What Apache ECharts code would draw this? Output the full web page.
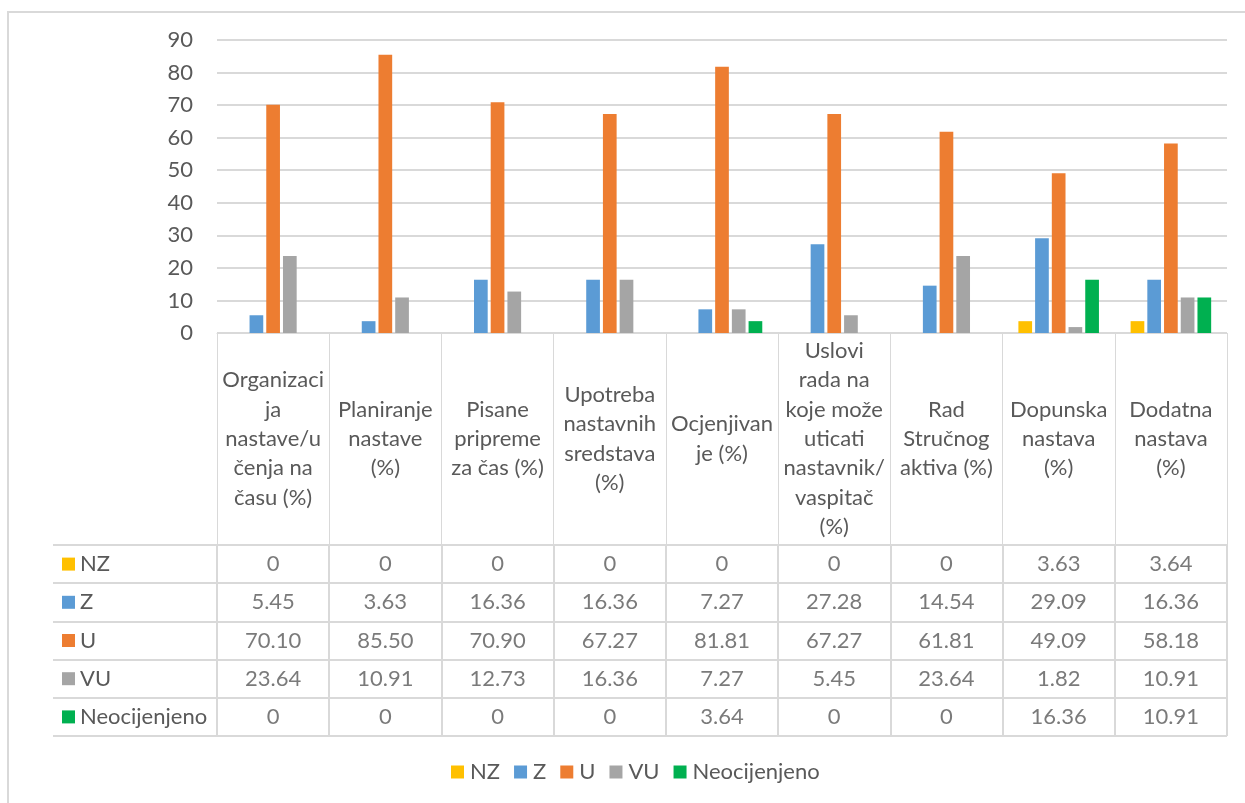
<!DOCTYPE html>
<html>
<head>
<meta charset="utf-8">
<script src="https://cdn.jsdelivr.net/npm/echarts@6/dist/echarts.min.js"></script>
<style>
html,body{margin:0;padding:0;background:#fff;}
#frame{position:absolute;left:7px;top:11px;width:1240px;height:795px;border-left:2px solid #d9d9d9;border-top:2px solid #d9d9d9;}
#chart{position:absolute;left:0;top:0;width:1245px;height:803px;}
</style>
</head>
<body>
<div id="frame"></div>
<div id="chart"></div>
<script>
const categories = [
  "Organizaci\nja\nnastave/u\nčenja na\ncasu (%)".replace("casu","času"),
  "Planiranje\nnastave\n(%)",
  "Pisane\npripreme\nza čas (%)",
  "Upotreba\nnastavnih\nsredstava\n(%)",
  "Ocjenjivan\nje (%)",
  "Uslovi\nrada na\nkoje može\nuticati\nnastavnik/\nvaspitač\n(%)",
  "Rad\nStručnog\naktiva (%)",
  "Dopunska\nnastava\n(%)",
  "Dodatna\nnastava\n(%)"
];
const seriesNames = ["NZ", "Z", "U", "VU", "Neocijenjeno"];
const NZ  = [0, 0, 0, 0, 0, 0, 0, 3.63, 3.64];
const Z   = [5.45, 3.63, 16.36, 16.36, 7.27, 27.28, 14.54, 29.09, 16.36];
const U   = [70.10, 85.50, 70.90, 67.27, 81.81, 67.27, 61.81, 49.09, 58.18];
const VU  = [23.64, 10.91, 12.73, 16.36, 7.27, 5.45, 23.64, 1.82, 10.91];
const NEO = [0, 0, 0, 0, 3.64, 0, 0, 16.36, 10.91];
const yTicks = { min: 0, max: 90, interval: 10 };

const values = [NZ, Z, U, VU, NEO];
const colors = ["#FFC000", "#5B9BD5", "#ED7D31", "#A5A5A5", "#00B050"];
const FONT = "Lato";
const FS = 22;
const TXT = "#595959";
const LINE = "#d9d9d9";

const rich = { t: { fontFamily: FONT, fontSize: FS, color: TXT, padding: [0, 0, 0, 5] } };
colors.forEach((c, i) => { rich["s" + i] = { width: 13, height: 13, backgroundColor: c }; });

const fmt = v => v === 0 ? "0" : v.toFixed(2);

const barSeries = seriesNames.map((n, i) => ({
  name: n, type: "bar", xAxisIndex: 0, yAxisIndex: 0,
  data: values[i], barWidth: 13.7, barGap: "22%",
  itemStyle: { color: colors[i] }
}));
const tableSeries = seriesNames.map((n, r) => ({
  name: "tbl_" + n, type: "scatter", xAxisIndex: 1, yAxisIndex: 1,
  symbolSize: 0, silent: true,
  data: values[r].map((v, i) => [i, r, v]),
  label: { show: true, position: "inside", formatter: p => fmt(p.value[2]),
           fontFamily: FONT, fontSize: FS, color: TXT }
}));

const chart = echarts.init(document.getElementById("chart"));
chart.setOption({
  animation: false,
  textStyle: { fontFamily: FONT },
  grid: [
    { left: 217, right: 18, top: 40, height: 293 },
    { left: 217, right: 18, top: 545, height: 191 }
  ],
  legend: {
    data: seriesNames, top: 756, left: 446,
    icon: "rect", itemWidth: 13, itemHeight: 13, itemGap: 14,
    textStyle: { fontFamily: FONT, fontSize: FS, color: TXT, padding: [0, 0, 0, 1] }
  },
  xAxis: [
    { type: "category", gridIndex: 0, data: categories,
      axisLine: { lineStyle: { color: LINE, width: 1 } },
      axisTick: { show: true, length: 212, interval: 0, lineStyle: { color: LINE } },
      axisLabel: { interval: 0, margin: 106, verticalAlign: "middle", lineHeight: 29.3,
                   fontFamily: FONT, fontSize: FS, color: TXT, align: "center" } },
    { type: "category", gridIndex: 1, data: categories, position: "bottom",
      axisLine: { show: false }, axisTick: { show: false }, axisLabel: { show: false },
      splitLine: { show: true, interval: 0, lineStyle: { color: LINE, width: 2 } } }
  ],
  yAxis: [
    { type: "value", gridIndex: 0, min: yTicks.min, max: yTicks.max, interval: yTicks.interval,
      axisLine: { show: false }, axisTick: { show: false },
      axisLabel: { margin: 24, fontFamily: FONT, fontSize: FS, color: TXT },
      splitLine: { lineStyle: { color: LINE, width: 2 } } },
    { type: "category", gridIndex: 1, data: seriesNames, inverse: true,
      axisLine: { show: true, lineStyle: { color: LINE, width: 2 } },
      axisTick: { show: true, length: 164, interval: 0, lineStyle: { color: LINE, width: 2 } },
      splitLine: { show: true, interval: 0, lineStyle: { color: LINE, width: 2 } },
      axisLabel: { interval: 0, align: "left", margin: 155,
                   formatter: (v, i) => "{s" + i + "|}{t|" + v + "}", rich: rich } },
    { type: "category", gridIndex: 1, data: seriesNames, inverse: true, offset: 164,
      axisLine: { show: true, lineStyle: { color: LINE, width: 2 } },
      axisTick: { show: false }, axisLabel: { show: false } }
  ],
  series: barSeries.concat(tableSeries)
});
</script>
</body>
</html>
